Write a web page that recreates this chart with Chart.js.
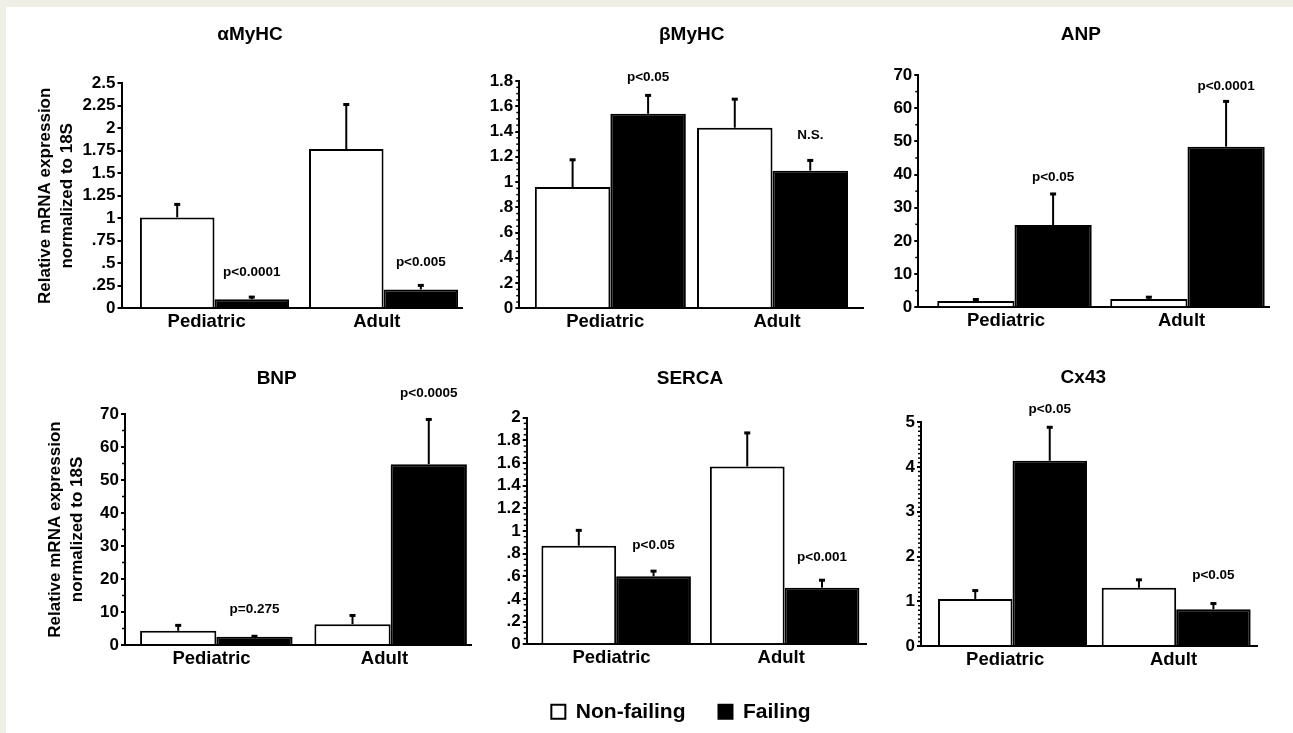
<!DOCTYPE html>
<html>
<head>
<meta charset="utf-8">
<script src="https://cdn.jsdelivr.net/npm/chart.js@4/dist/chart.umd.min.js"></script>
<style>
  html, body { margin: 0; padding: 0; }
  body { width: 1293px; height: 733px; background: #f0efe6; position: relative; overflow: hidden; }
  #sheet { position: absolute; left: 6px; top: 7px; right: 0; bottom: 0; background: #fff; }
  canvas { position: absolute; }
</style>
</head>
<body>
<div id="sheet"></div>
<canvas id="c0"></canvas>
<canvas id="c1"></canvas>
<canvas id="c2"></canvas>
<canvas id="c3"></canvas>
<canvas id="c4"></canvas>
<canvas id="c5"></canvas>
<script>
// groups and series
const categories = ['Pediatric', 'Adult'];
const seriesNames = ['Non-failing', 'Failing'];
const yTitle = ['Relative mRNA expression', 'normalized to 18S'];

// mean values [Pediatric, Adult] and error (SEM)
const aMyHC_nf = [1.01, 1.77], aMyHC_nfErr = [0.15, 0.50];
const aMyHC_f = [0.10, 0.21], aMyHC_fErr = [0.03, 0.05];
const aMyHC_p = ['p<0.0001', 'p<0.005'];

const bMyHC_nf = [0.96, 1.43], bMyHC_nfErr = [0.22, 0.23];
const bMyHC_f = [1.54, 1.09], bMyHC_fErr = [0.15, 0.085];
const bMyHC_p = ['p<0.05', 'N.S.'];

const ANP_nf = [1.9, 2.5], ANP_nfErr = [0.6, 0.7];
const ANP_f = [24.8, 48.4], ANP_fErr = [9.5, 13.8];
const ANP_p = ['p<0.05', 'p<0.0001'];

const BNP_nf = [4.3, 6.3], BNP_nfErr = [1.8, 2.8];
const BNP_f = [2.5, 54.8], BNP_fErr = [0.3, 13.7];
const BNP_p = ['p=0.275', 'p<0.0005'];

const SERCA_nf = [0.87, 1.57], SERCA_nfErr = [0.14, 0.30];
const SERCA_f = [0.60, 0.50], SERCA_fErr = [0.05, 0.07];
const SERCA_p = ['p<0.05', 'p<0.001'];

const Cx43_nf = [1.05, 1.30], Cx43_nfErr = [0.20, 0.19];
const Cx43_f = [4.14, 0.82], Cx43_fErr = [0.76, 0.14];
const Cx43_p = ['p<0.05', 'p<0.05'];

// page layout of each panel (canvas box, plot area, title spot)
const panels = [
  { id: 'c0', title: 'αMyHC', nf: aMyHC_nf, nfErr: aMyHC_nfErr, f: aMyHC_f, fErr: aMyHC_fErr, p: aMyHC_p,
    yMax: 2.5, step: 0.25, minor: 0, showTitle: true, titlePad: 34,
    box: [0, 8, 470, 337], area: [121.5, 83.3, 462, 308.3], titleAt: [250, 35],
    xMin: -0.55, xMax: 1.464, cp: 0.882, pGap: [24, 23] },
  { id: 'c1', title: 'βMyHC', nf: bMyHC_nf, nfErr: bMyHC_nfErr, f: bMyHC_f, fErr: bMyHC_fErr, p: bMyHC_p,
    yMax: 1.8, step: 0.2, minor: 0.05,
    box: [470, 8, 400, 337], area: [519.3, 81, 863, 308.3], titleAt: [691.7, 35],
    xMin: -0.5615, xMax: 1.558, cp: 0.931, pGap: [18, 25] },
  { id: 'c2', title: 'ANP', nf: ANP_nf, nfErr: ANP_nfErr, f: ANP_f, fErr: ANP_fErr, p: ANP_p,
    yMax: 70, step: 10, minor: 5,
    box: [870, 8, 423, 337], area: [918.3, 75, 1269.3, 307.3], titleAt: [1080.8, 35],
    xMin: -0.556, xMax: 1.473, cp: 0.893, pGap: [16, 15] },
  { id: 'c3', title: 'BNP', nf: BNP_nf, nfErr: BNP_nfErr, f: BNP_f, fErr: BNP_fErr, p: BNP_p,
    yMax: 70, step: 10, minor: 5, showTitle: true, titlePad: 44.5,
    box: [0, 345, 480, 388], area: [125, 414, 471, 645], titleAt: [276.7, 379],
    xMin: -0.524, xMax: 1.461, cp: 0.875, pGap: [26, 26] },
  { id: 'c4', title: 'SERCA', nf: SERCA_nf, nfErr: SERCA_nfErr, f: SERCA_f, fErr: SERCA_fErr, p: SERCA_p,
    yMax: 2, step: 0.2, minor: 0.05, legend: true,
    box: [496, 345, 376, 388], area: [526.7, 417.7, 866, 644.3], titleAt: [690, 379],
    xMin: -0.531, xMax: 1.483, cp: 0.8875, pGap: [25, 22] },
  { id: 'c5', title: 'Cx43', nf: Cx43_nf, nfErr: Cx43_nfErr, f: Cx43_f, fErr: Cx43_fErr, p: Cx43_p,
    yMax: 5, step: 1, minor: 0.1,
    box: [872, 345, 421, 388], area: [921, 422.3, 1257.7, 646], titleAt: [1083.3, 377.7],
    xMin: -0.559, xMax: 1.498, cp: 0.91, pGap: [17, 28] }
];

const FONT = '"Liberation Sans", Arial, Helvetica, sans-serif';
const XH = 24;        // height of the category axis
const LEGEND_H = 64;  // legend strip under SERCA

Chart.defaults.font.family = FONT;
Chart.defaults.color = '#000';

function fmtTick(v) {
  const s = String(+v.toFixed(3));
  return s.startsWith('0.') ? s.slice(1) : s;
}

// error bars, p values, panel title and minor ticks
function makeAnnotate(p) {
  return {
    id: 'annotate',
    afterDatasetsDraw(chart) {
      const ctx = chart.ctx, y = chart.scales.y, area = chart.chartArea;
      ctx.save();
      ctx.strokeStyle = '#000';
      ctx.fillStyle = '#000';

      if (p.minor) {
        ctx.lineWidth = 1.5;
        for (let v = p.minor; v < p.yMax - 1e-9; v += p.minor) {
          const r = v / p.step;
          if (Math.abs(r - Math.round(r)) < 1e-6) continue;
          const py = y.getPixelForValue(v);
          ctx.beginPath();
          ctx.moveTo(area.left - 3, py);
          ctx.lineTo(area.left, py);
          ctx.stroke();
        }
      }

      chart.data.datasets.forEach((ds, di) => {
        chart.getDatasetMeta(di).data.forEach((bar, i) => {
          const top = y.getPixelForValue(ds.data[i].y + ds.errors[i]);
          ctx.lineWidth = 2;
          ctx.beginPath();
          ctx.moveTo(bar.x, bar.y);
          ctx.lineTo(bar.x, top);
          ctx.stroke();
          ctx.fillRect(bar.x - 3, top - 1, 6, 3);
          if (di === 1) {
            ctx.font = 'bold 13.5px ' + FONT;
            ctx.textAlign = 'center';
            ctx.textBaseline = 'middle';
            ctx.fillText(p.p[i], bar.x, top - p.pGap[i]);
          }
        });
      });

      ctx.font = 'bold 19px ' + FONT;
      ctx.textAlign = 'center';
      ctx.textBaseline = 'middle';
      ctx.fillText(p.title, p.titleAt[0] - p.box[0], p.titleAt[1] - p.box[1]);
      ctx.restore();
    }
  };
}

panels.forEach(p => {
  const [bx, by, bw, bh] = p.box;
  const [al, at, ar, ab] = p.area;
  const canvas = document.getElementById(p.id);
  canvas.width = bw;
  canvas.height = bh;
  canvas.style.left = bx + 'px';
  canvas.style.top = by + 'px';

  const yw = al - bx;
  const padBottom = (by + bh) - ab - XH - (p.legend ? LEGEND_H : 0);

  new Chart(canvas.getContext('2d'), {
    type: 'bar',
    data: {
      labels: categories,
      datasets: [
        { label: seriesNames[0], data: categories.map((c, i) => ({ x: i, y: p.nf[i] })), errors: p.nfErr,
          backgroundColor: '#fff', borderColor: '#000', borderWidth: 2, xAxisID: 'xb',
          categoryPercentage: p.cp, barPercentage: 1 },
        { label: seriesNames[1], data: categories.map((c, i) => ({ x: i, y: p.f[i] })), errors: p.fErr,
          backgroundColor: '#000', borderColor: '#000', borderWidth: 2, xAxisID: 'xb',
          categoryPercentage: p.cp, barPercentage: 1 }
      ]
    },
    options: {
      responsive: false,
      animation: false,
      events: [],
      layout: { padding: { left: 0, top: at - by, right: (bx + bw) - ar, bottom: padBottom } },
      plugins: {
        title: { display: false },
        tooltip: { enabled: false },
        legend: {
          display: !!p.legend,
          position: 'bottom',
          maxHeight: LEGEND_H,
          labels: { boxWidth: 14, boxHeight: 14, padding: 33, color: '#000',
                    font: { size: 21, weight: 'bold' } }
        }
      },
      scales: {
        x: {
          type: 'category',
          offset: true,
          grid: { display: false, drawTicks: false },
          border: { display: true, color: '#000', width: 2 },
          ticks: { padding: 3, font: { size: 18.5, weight: 'bold' }, color: '#000', maxRotation: 0 },
          afterFit: s => { s.height = XH; }
        },
        xb: {
          type: 'linear',
          display: false,
          offset: false,
          bounds: 'data',
          min: p.xMin,
          max: p.xMax,
          afterBuildTicks: s => { s.ticks = categories.map((c, i) => ({ value: i })); }
        },
        y: {
          type: 'linear',
          min: 0,
          max: p.yMax,
          grid: { display: true, drawOnChartArea: false, drawTicks: true, tickLength: 4,
                  color: '#000', lineWidth: 2 },
          border: { display: true, color: '#000', width: 2 },
          ticks: { stepSize: p.step, autoSkip: false, padding: 2, color: '#000',
                   font: { size: 17, weight: 'bold', lineHeight: 1 },
                   callback: v => fmtTick(v) },
          title: {
            display: !!p.showTitle,
            text: yTitle,
            color: '#000',
            font: { size: 17, weight: 'bold', lineHeight: 1.3 },
            padding: { top: p.titlePad || 0, bottom: 0 }
          },
          afterFit: s => { s.width = yw; }
        }
      }
    },
    plugins: [makeAnnotate(p)]
  });
});
</script>
</body>
</html>
